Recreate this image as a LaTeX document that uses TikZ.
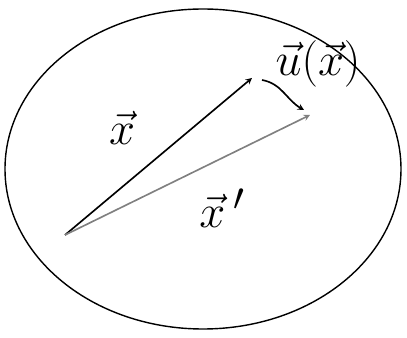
\documentclass[tikz,border=0pt]{standalone}
\usetikzlibrary{positioning}

\begin{document}
\begin{tikzpicture}[x=0.03cm, y=-0.03cm,
  vec/.style={->, line width=1.4pt, >=stealth},
  lbl/.style={font=\Huge, scale=1.6, transform shape}
]
  \useasboundingbox (0,0) rectangle (407,338);
  \draw[line width=1.2pt] (203,169) ellipse [x radius=198, y radius=160];

  \coordinate (o) at (65,235);
  \coordinate (xtip) at (252,78);
  \coordinate (xptip) at (310,115);
  \coordinate (ustart) at (262,80);
  \coordinate (uend) at (304,110);

  \draw[vec] (o) -- (xtip);
  \draw[vec, gray] (o) -- (xptip);
  \draw[vec] (ustart) to[out=-10, in=150] (uend);

  \node[lbl] (xl) at (122,128) {$\vec x$};
  \node[lbl] (xpl) at (222,208) {$\vec x\,'$};
  \node[lbl] (ul) at (318,64) {$\vec u(\vec x)$};
\end{tikzpicture}
\end{document}
